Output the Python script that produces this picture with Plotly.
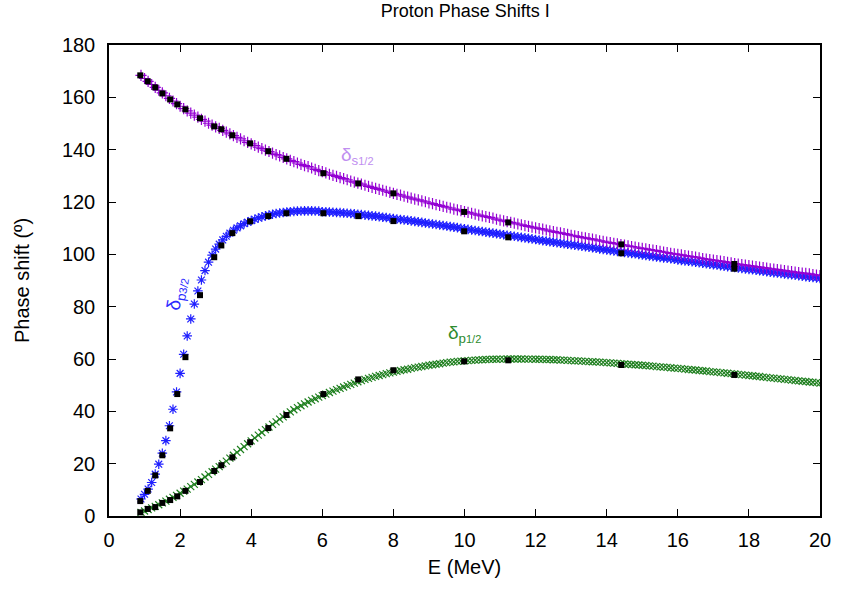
import numpy as np
import plotly.graph_objects as go

# Sampling grid of the theory curves (MeV)
E_START, E_STOP, E_STEP = 0.9, 20.0, 0.1
energy = np.round(np.arange(E_START, E_STOP + E_STEP / 2, E_STEP), 2)

# Theory curves (degrees), one value per grid energy
delta_s12 = [
    168.4, 167.2, 166.1, 164.9, 163.8, 162.7, 161.7, 160.6, 159.6, 158.6, 157.6,
    156.6, 155.7, 154.8, 154.0, 153.2, 152.4, 151.6, 150.9, 150.1, 149.4, 148.7,
    148.1, 147.4, 146.7, 146.0, 145.4, 144.7, 144.1, 143.4, 142.8, 142.2,
    141.6, 141.0, 140.4, 139.8, 139.3, 138.7, 138.1, 137.6, 137.0, 136.5,
    135.9, 135.4, 134.9, 134.4, 133.9, 133.5, 133.0, 132.5, 132.0, 131.6,
    131.1, 130.6, 130.2, 129.8, 129.3, 128.9, 128.5, 128.0, 127.6, 127.2,
    126.8, 126.4, 126.0, 125.6, 125.2, 124.8, 124.5, 124.1, 123.7, 123.3,
    122.9, 122.6, 122.2, 121.9, 121.5, 121.1, 120.8, 120.4, 120.1, 119.7,
    119.4, 119.0, 118.7, 118.3, 118.0, 117.7, 117.3, 117.0, 116.7, 116.3,
    116.0, 115.7, 115.4, 115.0, 114.7, 114.4, 114.1, 113.8, 113.4, 113.1,
    112.8, 112.5, 112.2, 111.9, 111.6, 111.3, 111.0, 110.7, 110.4, 110.1,
    109.8, 109.6, 109.3, 109.0, 108.7, 108.4, 108.2, 107.9, 107.6, 107.3,
    107.1, 106.8, 106.5, 106.3, 106.0, 105.8, 105.5, 105.2, 105.0, 104.7,
    104.5, 104.2, 104.0, 103.7, 103.5, 103.2, 103.0, 102.8, 102.5, 102.3,
    102.1, 101.8, 101.6, 101.4, 101.1, 100.9, 100.7, 100.4, 100.2, 100.0,
    99.8, 99.5, 99.3, 99.1, 98.9, 98.7, 98.4, 98.2, 98.0, 97.8,
    97.6, 97.4, 97.2, 96.9, 96.7, 96.5, 96.3, 96.1, 95.9, 95.7,
    95.5, 95.3, 95.1, 94.9, 94.7, 94.5, 94.4, 94.2, 94.0, 93.8,
    93.6, 93.4, 93.2, 93.0, 92.8, 92.7, 92.5, 92.3, 92.1, 91.9,
]

delta_p32 = [
    6.5, 8.3, 10.3, 12.8, 16.0, 19.8, 24.0, 28.8, 34.5, 40.8, 47.4,
    54.5, 61.8, 68.8, 75.3, 81.0, 86.0, 90.2, 93.8, 97.0, 99.7, 102.0,
    103.9, 105.5, 106.9, 108.1, 109.2, 110.1, 110.9, 111.7, 112.3, 112.9,
    113.4, 113.9, 114.3, 114.7, 115.0, 115.3, 115.6, 115.8, 116.0, 116.2,
    116.3, 116.4, 116.5, 116.55, 116.6, 116.6, 116.6, 116.55, 116.5, 116.3,
    116.25, 116.2, 116.1, 116.0, 115.95, 115.8, 115.7, 115.6, 115.45, 115.3,
    115.2, 115.0, 114.9, 114.7, 114.6, 114.4, 114.2, 114.05, 113.9, 113.7,
    113.5, 113.3, 113.15, 113.0, 112.8, 112.6, 112.4, 112.2, 112.0, 111.8,
    111.6, 111.4, 111.2, 111.0, 110.8, 110.6, 110.4, 110.2, 109.96, 109.75,
    109.55, 109.3, 109.1, 108.9, 108.7, 108.5, 108.3, 108.1, 107.9, 107.7,
    107.5, 107.3, 107.1, 106.9, 106.7, 106.5, 106.3, 106.1, 105.9, 105.65,
    105.45, 105.25, 105.05, 104.85, 104.65, 104.45, 104.25, 104.05, 103.85, 103.65,
    103.5, 103.3, 103.1, 102.9, 102.7, 102.5, 102.3, 102.1, 101.9, 101.7,
    101.5, 101.3, 101.1, 100.9, 100.75, 100.55, 100.35, 100.2, 100.0, 99.8,
    99.6, 99.4, 99.2, 99.0, 98.85, 98.65, 98.5, 98.3, 98.1, 97.9,
    97.7, 97.5, 97.35, 97.15, 97.0, 96.8, 96.6, 96.4, 96.25, 96.05,
    95.9, 95.7, 95.5, 95.3, 95.15, 95.0, 94.8, 94.6, 94.4, 94.25,
    94.1, 93.9, 93.7, 93.55, 93.4, 93.2, 93.0, 92.85, 92.7, 92.5,
    92.3, 92.2, 92.0, 91.8, 91.65, 91.5, 91.3, 91.15, 91.0, 90.8,
]

delta_p12 = [
    1.4, 1.9, 2.5, 3.1, 3.7, 4.3, 5.0, 5.7, 6.4, 7.1, 7.9,
    8.7, 9.5, 10.3, 11.2, 12.1, 13.0, 13.9, 14.9, 15.9, 16.9, 17.9,
    18.9, 20.0, 21.0, 22.1, 23.2, 24.3, 25.4, 26.5, 27.6, 28.7,
    29.8, 30.9, 31.9, 33.0, 34.0, 35.0, 36.0, 37.0, 37.9, 38.9,
    39.8, 40.6, 41.4, 42.15, 42.85, 43.55, 44.2, 44.8, 45.4, 46.0,
    46.6, 47.2, 47.7, 48.3, 48.8, 49.3, 49.8, 50.3, 50.8, 51.3,
    51.75, 52.2, 52.6, 53.0, 53.35, 53.7, 54.05, 54.4, 54.7, 55.0,
    55.3, 55.6, 55.9, 56.1, 56.4, 56.7, 56.9, 57.15, 57.4, 57.6,
    57.8, 58.0, 58.2, 58.4, 58.6, 58.8, 58.9, 59.1, 59.2, 59.3,
    59.4, 59.5, 59.6, 59.65, 59.7, 59.8, 59.85, 59.9, 59.9, 59.95,
    59.97, 59.99, 60.0, 60.0, 60.0, 59.99, 59.98, 59.96, 59.94, 59.9,
    59.9, 59.85, 59.8, 59.8, 59.7, 59.7, 59.6, 59.55, 59.5, 59.4,
    59.3, 59.3, 59.2, 59.1, 59.0, 58.95, 58.9, 58.8, 58.7, 58.6,
    58.5, 58.4, 58.3, 58.2, 58.1, 58.0, 57.9, 57.8, 57.7, 57.6,
    57.5, 57.4, 57.25, 57.1, 57.0, 56.9, 56.8, 56.65, 56.5, 56.4,
    56.3, 56.15, 56.0, 55.9, 55.8, 55.6, 55.5, 55.4, 55.2, 55.1,
    55.0, 54.8, 54.7, 54.55, 54.4, 54.3, 54.1, 54.0, 53.85, 53.7,
    53.6, 53.4, 53.3, 53.1, 53.0, 52.8, 52.7, 52.5, 52.4, 52.2,
    52.1, 51.9, 51.8, 51.65, 51.5, 51.4, 51.2, 51.1, 50.95, 50.8,
]

# Experimental points
E_data = [0.88, 1.09, 1.30, 1.50, 1.72, 1.92, 2.15, 2.56, 2.96, 3.16, 3.47,
          3.97, 4.48, 4.99, 6.03, 7.01, 8.00, 9.99, 11.23, 14.41, 17.59]
data_s12 = [168.4, 166.1, 163.8, 161.5, 159.2, 157.3, 155.4, 152.0, 148.9, 147.8, 145.5,
            142.4, 139.4, 136.5, 131.0, 127.1, 123.3, 116.2, 112.2, 103.8, 96.3]
data_p32 = [5.7, 9.6, 15.5, 23.2, 33.5, 46.6, 60.7, 84.4, 98.9, 103.4, 108.1,
            112.6, 114.6, 115.7, 115.7, 114.6, 112.7, 108.8, 106.5, 100.4, 94.5]
data_p12 = [1.4, 2.7, 3.4, 5.0, 6.1, 7.5, 9.6, 13.0, 17.2, 19.4, 22.4,
            28.2, 33.6, 38.6, 46.6, 52.2, 55.7, 59.1, 59.5, 57.7, 53.9]

x_ticks = list(range(0, 21, 2))
y_ticks = list(range(0, 181, 20))

FONT = "Liberation Sans, Arial, sans-serif"
PURPLE = "#9400d3"
BLUE = "#1f1fff"
GREEN = "#1e7f1e"

fig = go.Figure()

fig.add_trace(go.Scatter(
    x=energy, y=delta_p12, mode="markers",
    marker=dict(symbol="x-thin-open", size=7, color=GREEN,
                line=dict(color=GREEN, width=1.2)),
    showlegend=False, hoverinfo="skip"))
fig.add_trace(go.Scatter(
    x=energy, y=delta_p32, mode="markers",
    marker=dict(symbol="asterisk-open", size=8, color=BLUE,
                line=dict(color=BLUE, width=1.2)),
    showlegend=False, hoverinfo="skip"))
fig.add_trace(go.Scatter(
    x=energy, y=delta_s12, mode="markers",
    marker=dict(symbol="cross-thin-open", size=8, color=PURPLE,
                line=dict(color=PURPLE, width=1.2)),
    showlegend=False, hoverinfo="skip"))

for ys in (data_s12, data_p32, data_p12):
    fig.add_trace(go.Scatter(
        x=E_data, y=ys, mode="markers",
        marker=dict(symbol="square", size=6, color="black", line=dict(width=0)),
        showlegend=False, hoverinfo="skip"))


def label(sym, frac):
    return ("δ<sub>" + sym + "<span style='font-size:11px'>" + frac
            + "</span></sub>")


fig.add_annotation(x=7.0, y=137.5, text=label("s", "1/2"),
                   showarrow=False, font=dict(family=FONT, size=19, color="#c08ef0"))
fig.add_annotation(x=1.91, y=85.0, text=label("p", "3/2"), textangle=-80,
                   showarrow=False, font=dict(family=FONT, size=19, color="#2a2aff"))
fig.add_annotation(x=9.99, y=69.5, text=label("p", "1/2"),
                   showarrow=False, font=dict(family=FONT, size=19, color="#2e8b2e"))

axis_common = dict(
    showgrid=False, zeroline=False, showline=True, linecolor="black", linewidth=1.5,
    mirror="ticks", ticks="inside", ticklen=7, tickwidth=1, tickcolor="black",
    tickfont=dict(family=FONT, size=20, color="black"),
)

fig.update_layout(
    width=843, height=589,
    paper_bgcolor="white", plot_bgcolor="white",
    margin=dict(l=109, r=23, t=45, b=73),
    title=dict(text="Proton Phase Shifts I", x=0.552, xanchor="center",
               y=0.992, yanchor="top",
               font=dict(family=FONT, size=18, color="black")),
    xaxis=dict(range=[0, 20], tickvals=x_ticks,
               title=dict(text="E (MeV)", font=dict(family=FONT, size=20, color="black"),
                          standoff=10),
               ticklabelstandoff=5, **axis_common),
    yaxis=dict(range=[0, 180], tickvals=y_ticks,
               title=dict(text="Phase shift (º)", font=dict(family=FONT, size=20, color="black"),
                          standoff=27),
               ticklabelstandoff=8, **axis_common),
)

fig.write_html("out.html")
